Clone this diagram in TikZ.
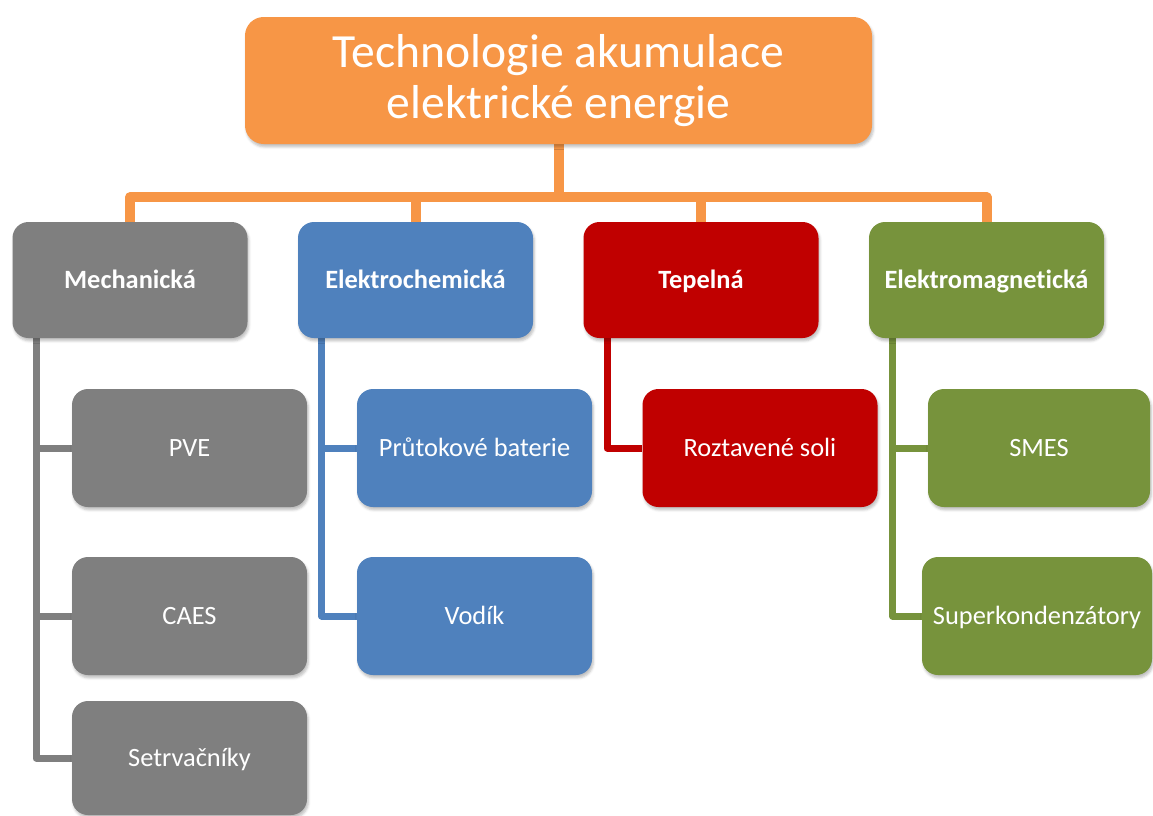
\documentclass[tikz,border=0pt]{standalone}
\usepackage{fontspec}
\setmainfont{Carlito}[Ligatures=NoCommon]
\usetikzlibrary{shadows.blur,backgrounds}
\definecolor{cOrange}{HTML}{F79646}
\definecolor{cGray}{HTML}{7F7F7F}
\definecolor{cBlue}{HTML}{4F81BD}
\definecolor{cRed}{HTML}{C00000}
\definecolor{cGreen}{HTML}{77933C}
\tikzset{
  boxbase/.style={rectangle, rounded corners=12pt, inner sep=0pt, text=white, align=center,
    blur shadow={shadow xshift=1pt, shadow yshift=-2.2pt, shadow blur radius=1.8pt, shadow opacity=25}},
  lvlone/.style={boxbase, minimum width=176.25pt, minimum height=87pt, text height=14pt, text depth=2pt, font=\fontsize{19.8}{24}\selectfont\bfseries},
  lvltwo/.style={boxbase, minimum width=176.25pt, minimum height=88.5pt, text height=14pt, text depth=2pt, font=\fontsize{19.8}{24}\selectfont},
  topbox/.style={boxbase, rounded corners=14pt, fill=cOrange, minimum width=470.25pt, minimum height=95.25pt, font=\fontsize{35.7}{38.4}\selectfont},
  conn/.style={line width=5.25pt, line join=round},
  topconn/.style={line width=7.5pt, line join=round, draw=cOrange},
}
\begin{document}
\begin{tikzpicture}[x=0.75pt,y=-0.75pt]
\useasboundingbox (0,0) rectangle (1153,815);
\clip (0,0) rectangle (1153,815);
% top
\node[topbox] (top) at (558.5,80.5) {Technologie akumulace\\elektrické energie};
% level 1
\node[lvlone, fill=cGray] (mech) at (130,280) {Mechanická};
\node[lvlone, fill=cBlue] (elch) at (415.5,280) {Elektrochemická};
\node[lvlone, fill=cRed] (tep) at (701,280) {Tepelná};
\node[lvlone, fill=cGreen] (elmg) at (986.5,280) {Elektromagnetická};
% level 2
\node[lvltwo, fill=cGray] (pve) at (189.5,448) {PVE};
\node[lvltwo, fill=cGray] (caes) at (189.5,616) {CAES};
\node[lvltwo, fill=cGray, minimum height=85.5pt] (setr) at (189.5,758) {Setrvačníky};
\node[lvltwo, fill=cBlue] (prut) at (474.5,448) {Průtokové baterie};
\node[lvltwo, fill=cBlue] (vodik) at (474.5,616) {Vodík};
\node[lvltwo, fill=cRed] (roz) at (760,448) {Roztavené soli};
\node[lvltwo, fill=cGreen, minimum width=166.5pt] (smes) at (1039,448) {SMES};
\node[lvltwo, fill=cGreen, minimum width=172.5pt] (superk) at (1037,616) {Superkondenzátory};
\begin{pgfonlayer}{background}
\draw[topconn] (top.south) -- ++(0,53) -| (mech.north);
\draw[topconn] (top.south) -- ++(0,53) -| (elch.north);
\draw[topconn] (top.south) -- ++(0,53) -| (tep.north);
\draw[topconn] (top.south) -- ++(0,53) -| (elmg.north);
\draw[conn, draw=cGray] ([xshift=-70.5pt]mech.south) |- (pve.west);
\draw[conn, draw=cGray] ([xshift=-70.5pt]mech.south) |- (caes.west);
\draw[conn, draw=cGray] ([xshift=-70.5pt]mech.south) |- (setr.west);
\draw[conn, draw=cBlue] ([xshift=-70.3pt]elch.south) |- (prut.west);
\draw[conn, draw=cBlue] ([xshift=-70.3pt]elch.south) |- (vodik.west);
\draw[conn, draw=cRed] ([xshift=-70.5pt]tep.south) |- (roz.west);
\draw[conn, draw=cGreen] ([xshift=-70.5pt]elmg.south) |- (smes.west);
\draw[conn, draw=cGreen] ([xshift=-70.5pt]elmg.south) |- (superk.west);
\end{pgfonlayer}
\end{tikzpicture}
\end{document}
